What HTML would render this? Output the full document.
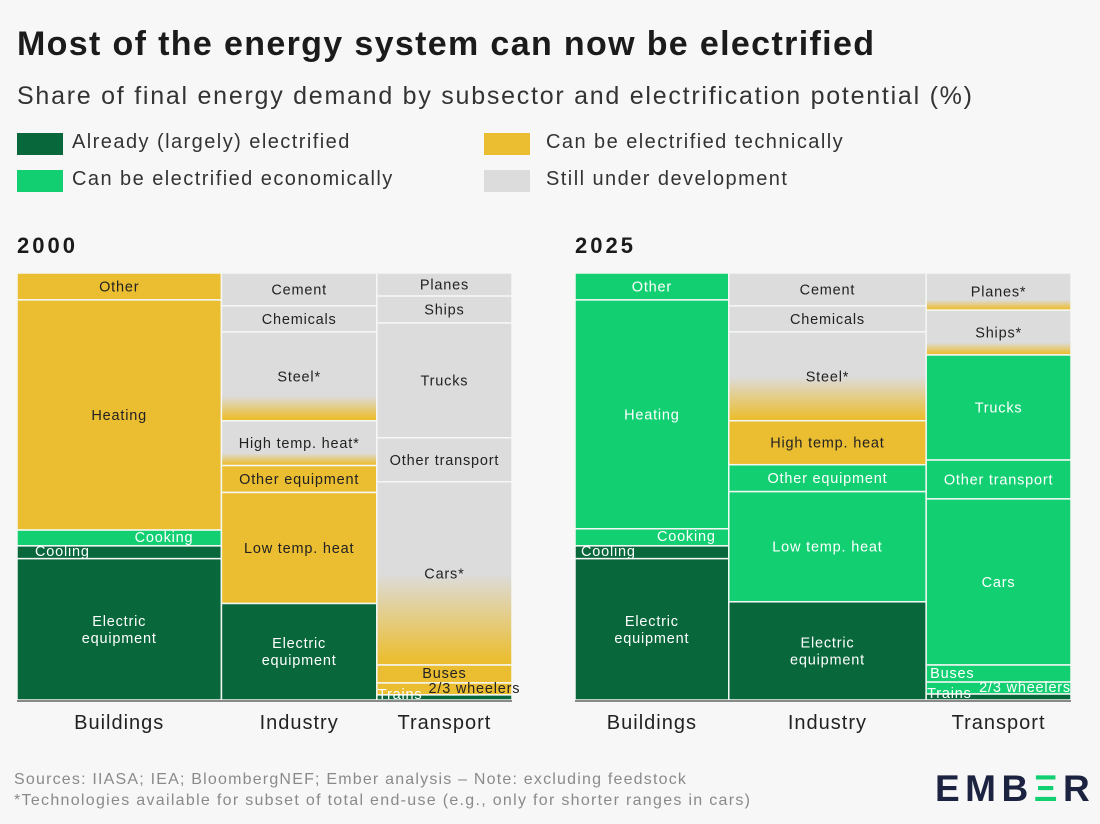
<!DOCTYPE html>
<html><head><meta charset="utf-8">
<style>
body{margin:0;background:#f7f7f7;font-family:"Liberation Sans",sans-serif;}
#wrap{position:relative;width:1100px;height:824px;overflow:hidden;background:#f7f7f7;}
.t{position:absolute;white-space:nowrap;color:#1b1b1b;}
.sw{position:absolute;width:46px;height:22px;}
.lg{font-size:20px;color:#333;letter-spacing:1.45px;}
</style></head><body>
<div id="wrap">
<div class="t" style="left:17px;top:25px;font-size:34px;font-weight:bold;letter-spacing:1.35px">Most of the energy system can now be electrified</div>
<div class="t" style="left:17px;top:82px;font-size:25px;color:#333;letter-spacing:1.75px">Share of final energy demand by subsector and electrification potential (%)</div>
<div class="sw" style="left:17px;top:133px;background:#08673b"></div>
<div class="t lg" style="left:72px;top:131px">Already (largely) electrified</div>
<div class="sw" style="left:17px;top:170px;background:#12cf72"></div>
<div class="t lg" style="left:72px;top:168px">Can be electrified economically</div>
<div class="sw" style="left:484px;top:133px;background:#ebbe32"></div>
<div class="t lg" style="left:546px;top:131px">Can be electrified technically</div>
<div class="sw" style="left:484px;top:170px;background:#dcdcdd"></div>
<div class="t lg" style="left:546px;top:168px">Still under development</div>
<div class="t" style="left:17px;top:233px;font-size:22px;font-weight:bold;letter-spacing:3px">2000</div>
<div class="t" style="left:575px;top:233px;font-size:22px;font-weight:bold;letter-spacing:3px">2025</div>
<svg id="svg" width="1100" height="824" style="position:absolute;left:0;top:0"></svg>
<div class="t" style="left:14px;top:771px;font-size:16px;color:#8a8a8a;letter-spacing:1.2px">Sources: IIASA; IEA; BloombergNEF; Ember analysis – Note: excluding feedstock</div>
<div class="t" style="left:14px;top:792px;font-size:16px;color:#8a8a8a;letter-spacing:1.3px">*Technologies available for subset of total end-use (e.g., only for shorter ranges in cars)</div>
<div class="t" style="left:935px;top:768px;font-size:37px;font-weight:bold;color:#1c2340;letter-spacing:5.5px">EMB<span style="color:#12cf72">Ξ</span>R</div>
</div>
<script>
const sectors = ["Buildings","Industry","Transport"];
const widths2000 = [41.3, 31.4, 27.3];
const widths2025 = [31.0, 39.8, 29.2];
const labelsB = ["Other","Heating","Cooking","Cooling","Electric\nequipment"];
const labelsI2000 = ["Cement","Chemicals","Steel*","High temp. heat*","Other equipment","Low temp. heat","Electric\nequipment"];
const labelsI2025 = ["Cement","Chemicals","Steel*","High temp. heat","Other equipment","Low temp. heat","Electric\nequipment"];
const labelsT2000 = ["Planes","Ships","Trucks","Other transport","Cars*","Buses","2/3 wheelers","Trains"];
const labelsT2025 = ["Planes*","Ships*","Trucks","Other transport","Cars","Buses","2/3 wheelers","Trains"];
const valsB2000 = [6.3, 53.9, 3.7, 3.0, 33.1];
const valsI2000 = [7.7, 6.1, 20.8, 10.5, 6.3, 26.0, 22.6];
const valsT2000 = [5.4, 6.3, 26.9, 10.3, 42.9, 4.2, 2.8, 1.2];
const valsB2025 = [6.3, 53.6, 4.0, 3.0, 33.1];
const valsI2025 = [7.7, 6.1, 20.8, 10.3, 6.3, 25.8, 23.0];
const valsT2025 = [8.7, 10.5, 24.6, 9.1, 38.9, 4.0, 2.8, 1.4];
const catB2000 = ["tech","tech","econ","dark","dark"];
const catI2000 = ["dev","dev","devtech","devtech","tech","tech","dark"];
const catT2000 = ["dev","dev","dev","dev","devtech2","tech","tech","dark"];
const catB2025 = ["econ","econ","econ","dark","dark"];
const catI2025 = ["dev","dev","devtech2","tech","econ","econ","dark"];
const catT2025 = ["devtech","devtech","econ","econ","econ","econ","econ","dark"];

const NS="http://www.w3.org/2000/svg";
const svg=document.getElementById('svg');
const COL={dark:"#08673b",econ:"#12cf72",tech:"#ebbe32",dev:"#dcdcdd"};
const defs=document.createElementNS(NS,'defs');svg.appendChild(defs);
function grad(id,stop){const g=document.createElementNS(NS,'linearGradient');g.setAttribute('id',id);g.setAttribute('x1','0');g.setAttribute('y1','0');g.setAttribute('x2','0');g.setAttribute('y2','1');
g.innerHTML='<stop offset="0" stop-color="#dcdcdd"/><stop offset="'+stop+'" stop-color="#dcdcdd"/><stop offset="0.97" stop-color="#ebbe32"/><stop offset="1" stop-color="#ebbe32"/>';defs.appendChild(g);}
grad('gDT',0.72);grad('gDT2',0.5);
function fill(c){if(c==='devtech')return 'url(#gDT)';if(c==='devtech2')return 'url(#gDT2)';return COL[c];}
function mk(tag,attrs){const e=document.createElementNS(NS,tag);for(const k in attrs)e.setAttribute(k,attrs[k]);svg.appendChild(e);return e;}
const TOP=273,BOT=700,H=BOT-TOP;
function yScale(p){return TOP+p/100*H;}
function panel(x0,x1,widths,vals,cats,labels,yr){
  const tot=widths.reduce((a,b)=>a+b,0);let cx=x0;
  widths.forEach((w,si)=>{
    const cw=w/tot*(x1-x0);let acc=0;
    vals[si].forEach((v,i)=>{
      const y0=yScale(acc),y1=yScale(acc+v);acc+=v;
      const r=mk('rect',{x:cx,y:y0,width:cw,height:y1-y0,fill:fill(cats[si][i]),stroke:'#f4f7f4','stroke-width':1.5});
      
      
      const c=cats[si][i];const light=(c==='dark'||c==='econ');
      let lx=cx+cw/2,ly=(y0+y1)/2,anchor='middle';
      const lab=labels[si][i];
      if(lab==='Cooking'){anchor='end';lx=cx+cw-(yr==='2000'?28:13);ly=y0+7;}
      if(lab==='Cooling'){anchor='start';lx=cx+(yr==='2000'?18:6);ly=y0+5;}
      if(lab==='Buses'){if(yr==='2025'){anchor='start';lx=cx+4;}ly=y0+8;}
      if(lab==='2/3 wheelers'){if(yr==='2025'){anchor='end';lx=cx+cw;}else{lx=cx+cw/2+30;}ly=y0+5;}
      if(lab==='Trains'){anchor='start';lx=cx+1;ly=y0-1;}
      const col=(lab==='Trains'||lab==='Cooling')?'#fff':(lab==='2/3 wheelers'||lab==='Buses')?(yr==='2025'?'#fff':'#222'):(light?'#fff':'#222');
      const lines=lab.split('\n');
      lines.forEach((ln,k)=>{
        const t=mk('text',{x:lx,y:ly+(k-(lines.length-1)/2)*17+5,'text-anchor':anchor,'font-size':14.5,'letter-spacing':0.8,fill:col,'font-family':'Liberation Sans, sans-serif'});
        t.textContent=ln;
        
        
      });
    });
    const ax=mk('text',{x:cx+cw/2,y:729,'text-anchor':'middle','font-size':20,'letter-spacing':1,fill:'#222','font-family':'Liberation Sans, sans-serif'});
    ax.textContent=sectors[si];
    
    
    cx+=cw;
  });
  const l=mk('line',{x1:x0,x2:x1,y1:BOT+1,y2:BOT+1,stroke:'#666','stroke-width':1.5});
  
  
}
panel(17,512,widths2000,[valsB2000,valsI2000,valsT2000],[catB2000,catI2000,catT2000],[labelsB,labelsI2000,labelsT2000],'2000');
panel(575,1071,widths2025,[valsB2025,valsI2025,valsT2025],[catB2025,catI2025,catT2025],[labelsB,labelsI2025,labelsT2025],'2025');
</script>
</body></html>
